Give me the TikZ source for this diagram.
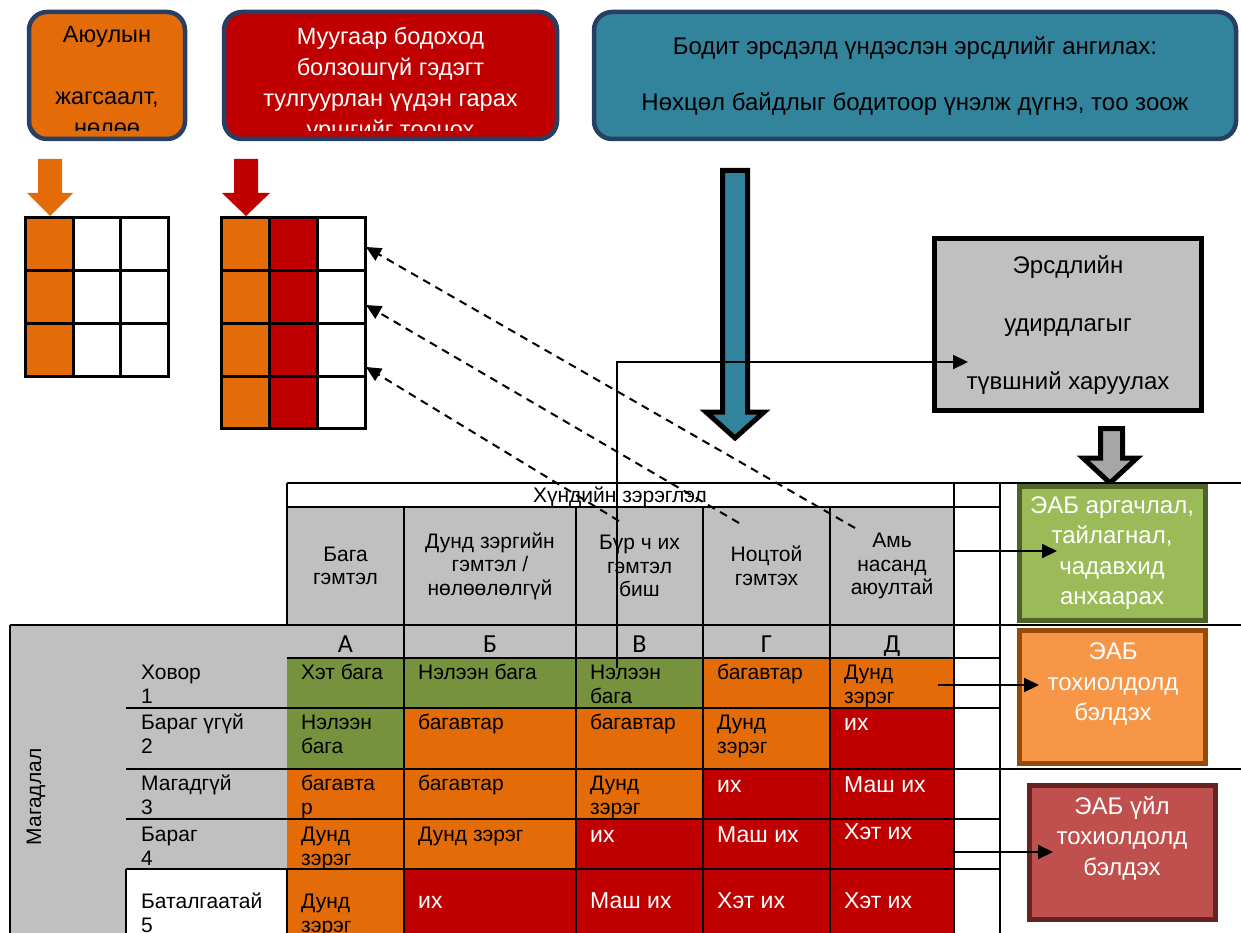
\documentclass[tikz,border=0pt]{standalone}
\usepackage{fontspec}
\setmainfont{Liberation Sans}
\newfontfamily\letterfont{Carlito}
\usetikzlibrary{arrows.meta}

\definecolor{orng}{HTML}{E36C09}
\definecolor{redc}{HTML}{C00000}
\definecolor{tealbox}{HTML}{31849B}
\definecolor{navy}{HTML}{263F63}
\definecolor{greyc}{HTML}{C0C0C0}
\definecolor{arrgrey}{HTML}{A6A6A6}
\definecolor{greenc}{HTML}{76923C}
\definecolor{grnbox}{HTML}{9BBB59}
\definecolor{grnline}{HTML}{4F6228}
\definecolor{orgbox}{HTML}{F79646}
\definecolor{orgline}{HTML}{984807}
\definecolor{redbox}{HTML}{C0504D}
\definecolor{redline}{HTML}{632423}

\newcommand{\cstack}[1]{\vtop{\halign{\hfil##\hfil\cr#1\crcr}}}
\newcommand{\two}[2]{\vtop{\hbox{#1}\hbox{#2}}}

\tikzset{
  tbox/.style={draw=navy, line width=4.5pt, rounded corners=18pt, inner sep=0pt},
  rbox/.style={line width=5pt, inner sep=0pt, minimum width=186pt},
  boxtxt/.style={anchor=base, inner sep=0pt, font=\fontsize{23.5}{31}\selectfont},
  rtxt/.style={anchor=base, inner sep=0pt, text=white, font=\fontsize{24}{30.5}\selectfont},
  htxt/.style={inner sep=0pt, font=\fontsize{21}{23.5}\selectfont},
  ctxt/.style={anchor=base west, inner sep=0pt, font=\fontsize{21}{24}\selectfont},
  wtxt/.style={ctxt, text=white, font=\fontsize{23}{24}\selectfont},
  lettr/.style={anchor=base, inner sep=0pt, font=\letterfont\fontsize{26}{30}\selectfont},
  gline/.style={line width=3pt},
  tline/.style={line width=2pt},
  arr/.style={line width=2pt, -{Triangle[length=15pt,width=14pt]}},
  darr/.style={arr, dash pattern=on 8pt off 6pt},
}

\begin{document}
\begin{tikzpicture}[x=1pt,y=-1pt]
  \useasboundingbox (0,0) rectangle (1241,933);

  % top boxes
  \node[tbox, fill=orng, minimum width=156pt, minimum height=127pt] (haz) at (107,75.5) {};
  \node[tbox, fill=redc, minimum width=333pt, minimum height=127pt] (worst) at (390.5,75.5) {};
  \node[tbox, fill=tealbox, minimum width=642pt, minimum height=127pt] (real) at (915,75.5) {};
  \begin{scope}
    \clip (31,14) rectangle (183,131);
    \node[boxtxt] (hazt) at (107,43) {\cstack{Аюулын\cr\cr жагсаалт,\cr нөлөө}};
  \end{scope}
  \begin{scope}
    \clip (226,14) rectangle (555,131);
    \node[boxtxt, text=white] (worstt) at (390.5,45) {\cstack{Муугаар бодоход\cr болзошгүй гэдэгт\cr тулгуурлан үүдэн гарах\cr уршгийг тооцох}};
  \end{scope}
  \node[boxtxt, font=\fontsize{24}{56}\selectfont] (realt) at (915,55) {\cstack{Бодит эрсдэлд үндэслэн эрсдлийг ангилах:\cr Нөхцөл байдлыг бодитоор үнэлж дүгнэ, тоо зоож}};

  % small grids
  \fill[orng] (38,159) -- (62,159) -- (62,193) -- (73,193) -- (50,216) -- (27,193) -- (38,193) -- cycle;
  \fill[redc] (234,159) -- (258,159) -- (258,193) -- (270,193) -- (246,216) -- (222,193) -- (234,193) -- cycle;
  \fill[orng] (25,218) rectangle (73,376);
  \draw[gline] (25,218) rectangle (168,376);
  \draw[gline] (73,218) -- (73,376) (120,218) -- (120,376) (25,270.5) -- (168,270.5) (25,323.5) -- (168,323.5);
  \fill[orng] (221,218) rectangle (269,428);
  \fill[redc] (269,218) rectangle (317,428);
  \draw[gline] (221,218) rectangle (365,428);
  \draw[gline] (269,218) -- (269,428) (317,218) -- (317,428) (221,270.5) -- (365,270.5) (221,323.5) -- (365,323.5) (221,376) -- (365,376);

  % big arrows and management box
  \draw[line width=5pt, fill=tealbox] (722.5,170.5) -- (747.5,170.5) -- (747.5,412) -- (764,412) -- (735,438) -- (706,412) -- (722.5,412) -- cycle;
  \node[draw, line width=5pt, fill=greyc, inner sep=0pt, minimum width=267pt, minimum height=172pt] (mgmt) at (1068,324.5) {};
  \node[boxtxt, font=\fontsize{24}{29}\selectfont] (mgmtt) at (1068,273) {\cstack{Эрсдлийн\cr\cr удирдлагыг\cr\cr түвшний харуулах}};
  \draw[line width=5pt, fill=arrgrey] (1100.5,428.5) -- (1122.5,428.5) -- (1122.5,458) -- (1137,458) -- (1110,483) -- (1083,458) -- (1100.5,458) -- cycle;

  % action boxes
  \node[rbox, draw=grnline, fill=grnbox, minimum height=134pt] (eabm) at (1112.5,553.5) {};
  \node[rbox, draw=orgline, fill=orgbox, minimum height=133pt] (eabp) at (1112.5,697) {};
  \node[rbox, draw=redline, fill=redbox, minimum height=134pt] (eabu) at (1122,852.5) {};
  \node[rtxt] (eabmt) at (1112,513) {\cstack{ЭАБ аргачлал,\cr тайлагнал,\cr чадавхид\cr анхаарах}};
  \node[rtxt] (eabpt) at (1113,659.5) {\cstack{ЭАБ\cr тохиолдолд\cr бэлдэх}};
  \node[rtxt] (eabut) at (1122,814) {\cstack{ЭАБ үйл\cr тохиолдолд\cr бэлдэх}};

  % matrix fills
  \fill[greyc] (287,507) rectangle (954,625);
  \fill[greyc] (10,625) rectangle (954,658);
  \fill[greyc] (10,658) rectangle (287,933);
  \fill[white] (125.5,869) rectangle (287,933);
  \fill[orng] (287,658) rectangle (954,933);
  \fill[greenc] (287,658) -- (703,658) -- (703,708) -- (404,708) -- (404,769) -- (287,769) -- cycle;
  \fill[redc] (954,708) -- (954,933) -- (404,933) -- (404,869) -- (576,869) -- (576,819) -- (703,819) -- (703,769) -- (830,769) -- (830,708) -- cycle;

  % header
  \node[htxt, anchor=base] (sev) at (620,502) {Хүндийн зэрэглэл};
  \node[htxt] (hA) at (345.5,566) {\cstack{Бага\cr гэмтэл}};
  \node[htxt] (hB) at (490,566) {\cstack{Дунд зэргийн\cr гэмтэл /\cr нөлөөлөлгүй}};
  \node[htxt] (hV) at (639.5,566) {\cstack{Бүр ч их\cr гэмтэл\cr биш}};
  \node[htxt] (hG) at (766.5,566) {\cstack{Ноцтой\cr гэмтэх}};
  \node[htxt] (hD) at (892,566) {\cstack{Амь\cr насанд\cr аюултай}};
  \node[lettr] (lA) at (345.5,652) {А};
  \node[lettr] (lB) at (490,652) {Б};
  \node[lettr] (lV) at (639.5,652) {В};
  \node[lettr] (lG) at (766.5,652) {Г};
  \node[lettr] (lD) at (892,652) {Д};
  \node[htxt, rotate=90] (prob) at (36,797) {Магадлал};

  % rows
  \node[ctxt] (p1) at (141,679) {\two{Ховор}{1}};
  \node[ctxt] (p2) at (141,729) {\two{Бараг үгүй}{2}};
  \node[ctxt] (p3) at (141,790) {\two{Магадгүй}{3}};
  \node[ctxt] (p4) at (141,841) {\two{Бараг}{4}};
  \node[ctxt] (p5) at (141,908) {\two{Баталгаатай}{5}};

  \node[ctxt] (cA1) at (301,679) {Хэт бага};
  \node[ctxt] (cB1) at (418,679) {Нэлээн бага};
  \node[ctxt] (cV1) at (590,679) {\two{Нэлээн}{бага}};
  \node[ctxt] (cG1) at (717,679) {багавтар};
  \node[ctxt] (cD1) at (844,679) {\two{Дунд}{зэрэг}};

  \node[ctxt] (cA2) at (301,729) {\two{Нэлээн}{бага}};
  \node[ctxt] (cB2) at (418,729) {багавтар};
  \node[ctxt] (cV2) at (590,729) {багавтар};
  \node[ctxt] (cG2) at (717,729) {\two{Дунд}{зэрэг}};
  \node[wtxt] (cD2) at (844,730) {их};

  \node[ctxt] (cA3) at (301,790) {\two{багавта}{р}};
  \node[ctxt] (cB3) at (418,790) {багавтар};
  \node[ctxt] (cV3) at (590,790) {\two{Дунд}{зэрэг}};
  \node[wtxt] (cG3) at (717,792) {их};
  \node[wtxt] (cD3) at (844,792) {Маш их};

  \node[ctxt] (cA4) at (301,841) {\two{Дунд}{зэрэг}};
  \node[ctxt] (cB4) at (418,841) {Дунд зэрэг};
  \node[wtxt] (cV4) at (590,842) {их};
  \node[wtxt] (cG4) at (717,842) {Маш их};
  \node[wtxt] (cD4) at (844,839) {Хэт их};

  \node[ctxt] (cA5) at (301,908) {\two{Дунд}{зэрэг}};
  \node[wtxt] (cB5) at (418,908) {их};
  \node[wtxt] (cV5) at (590,908) {Маш их};
  \node[wtxt] (cG5) at (717,908) {Хэт их};
  \node[wtxt] (cD5) at (844,908) {Хэт их};

  % matrix lines
  \draw[tline] (287,483) -- (1241,483) (287,507) -- (1000,507) (10,625) -- (1241,625) (287,658) -- (1000,658);
  \draw[tline] (125.5,708) -- (1000,708) (125.5,769) -- (1241,769) (125.5,819) -- (1000,819) (125.5,869) -- (1000,869);
  \draw[tline] (287,483) -- (287,625) (954,483) -- (954,933) (1000,483) -- (1000,933);
  \draw[tline] (404,507) -- (404,933) (576,507) -- (576,933) (703,507) -- (703,933) (830,507) -- (830,933);
  \draw[tline] (10,625) -- (10,933) (125.5,869) -- (125.5,933) (287,869) -- (287,933);

  % connectors
  \coordinate (g1) at (366,247);
  \coordinate (g2) at (366,305);
  \coordinate (g3) at (366,367);
  \coordinate (t1) at (855,528);
  \coordinate (t2) at (739,523);
  \coordinate (t3) at (619,521);
  \draw[darr] (t1) -- (g1);
  \draw[darr] (t2) -- (g2);
  \draw[darr] (t3) -- (g3);
  \coordinate (vB1) at (617,668);
  \coordinate (mgin) at (968,362);
  \draw[arr] (vB1) |- (mgin);
  \coordinate (sevD) at (954,551);
  \coordinate (mtip) at (1057,551);
  \coordinate (cellD1) at (938,685);
  \coordinate (ptip) at (1039,685);
  \coordinate (rowD4) at (952,852);
  \coordinate (utip) at (1053,852);
  \draw[arr] (sevD) -- (mtip);
  \draw[arr] (cellD1) -- (ptip);
  \draw[arr] (rowD4) -- (utip);
\end{tikzpicture}
\end{document}
